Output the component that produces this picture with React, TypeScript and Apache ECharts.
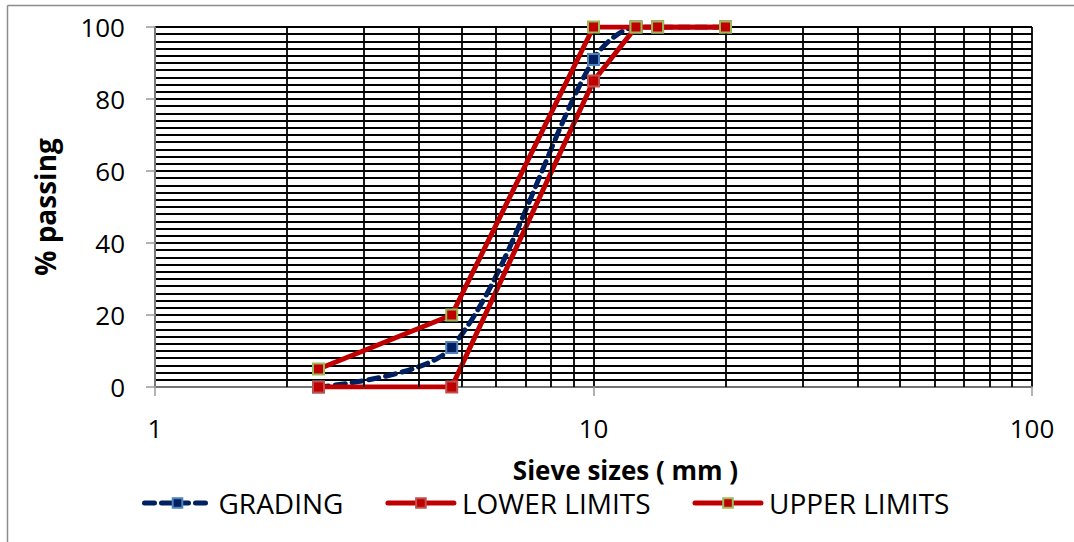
import React, { useEffect, useRef } from "react";
import * as echarts from "echarts";

const sieveSizes = [2.36, 4.75, 10, 12.5, 14, 20];
const grading = [0, 11, 91, 100, 100, 100];
const lowerLimits = [0, 0, 85, 100, 100, 100];
const upperLimits = [5, 20, 100, 100, 100, 100];
const minorGridX = [2, 3, 4, 5, 6, 7, 8, 9, 20, 30, 40, 50, 60, 70, 80, 90];

const FONT = "Open Sans";

export default function App() {
  const ref = useRef<HTMLDivElement>(null);
  useEffect(() => {
    const chart = echarts.init(ref.current!, null, { renderer: "svg" });
    const pair = (ys: number[]) => sieveSizes.map((x, i) => [x, ys[i]]);
    chart.setOption({
      animation: false,
      backgroundColor: "#fff",
      textStyle: { fontFamily: FONT },
      grid: { left: 155, right: 42, top: 27, bottom: 155 },
      xAxis: {
        type: "log",
        logBase: 10,
        min: 1,
        max: 100,
        name: "Sieve sizes ( mm )",
        nameLocation: "middle",
        nameGap: 70,
        nameTextStyle: { fontFamily: FONT, fontWeight: "bold", fontSize: 26, color: "#000", padding: [0, 0, 0, 64] },
        axisLine: { show: true, lineStyle: { color: "#9a9a9a", width: 1.5 } },
        axisTick: { show: true, length: 9, lineStyle: { color: "#9a9a9a", width: 1.5 } },
        axisLabel: { fontFamily: FONT, fontSize: 26, color: "#000", margin: 28 },
        splitLine: { show: true, lineStyle: { color: "#000", width: 1.8 } },
        minorTick: { show: false },
        minorSplitLine: { show: false },
      },
      yAxis: {
        type: "value",
        min: 0,
        max: 100,
        interval: 20,
        name: "% passing",
        nameLocation: "middle",
        nameGap: 96,
        nameTextStyle: { fontFamily: FONT, fontWeight: "bold", fontSize: 28, color: "#000" },
        axisLine: { show: true, lineStyle: { color: "#9a9a9a", width: 1.5 } },
        axisTick: { show: true, length: 9, lineStyle: { color: "#9a9a9a", width: 1.5 } },
        axisLabel: { fontFamily: FONT, fontSize: 26, color: "#000", margin: 30 },
        splitLine: { show: true, lineStyle: { color: "#000", width: 1.8 } },
        minorTick: { show: false, splitNumber: 10 },
        minorSplitLine: { show: true, lineStyle: { color: "#000", width: 1.8 } },
      },
      legend: {
        left: 137,
        top: 484,
        itemGap: 42,
        itemWidth: 66,
        itemHeight: 12,
        lineStyle: { width: 5, cap: "round" },
        textStyle: { fontFamily: FONT, fontSize: 28, color: "#000", padding: [0, 0, 0, 3] },
        data: ["GRADING", "LOWER LIMITS", "UPPER LIMITS"],
      },
      graphic: [
        { type: "line", shape: { x1: 7.5, y1: 5.5, x2: 1074, y2: 5.5 }, style: { stroke: "#8c8c8c", lineWidth: 1.5 } },
        { type: "line", shape: { x1: 7.5, y1: 5.5, x2: 7.5, y2: 542 }, style: { stroke: "#8c8c8c", lineWidth: 1.5 } },
      ],
      series: [
        {
          name: "grid",
          type: "line",
          data: [],
          z: 1,
          silent: true,
          markLine: {
            silent: true,
            symbol: ["none", "none"],
            label: { show: false },
            lineStyle: { color: "#000", width: 1.8, type: "solid" },
            data: minorGridX.map((v) => ({ xAxis: v })),
          },
        },
        {
          name: "GRADING",
          type: "line",
          data: pair(grading),
          smooth: 0.3,
          symbol: "rect",
          symbolSize: 11,
          lineStyle: { color: "#002060", width: 5, type: [10, 7], cap: "round" },
          itemStyle: { color: "#002060", borderColor: "#4F81BD", borderWidth: 2 },
          z: 3,
        },
        {
          name: "LOWER LIMITS",
          type: "line",
          data: pair(lowerLimits),
          symbol: "rect",
          symbolSize: 11,
          lineStyle: { color: "#C00000", width: 5 },
          itemStyle: { color: "#C00000", borderColor: "#C0504D", borderWidth: 2 },
          z: 4,
        },
        {
          name: "UPPER LIMITS",
          type: "line",
          data: pair(upperLimits),
          symbol: "rect",
          symbolSize: 11,
          lineStyle: { color: "#C00000", width: 5 },
          itemStyle: { color: "#C00000", borderColor: "#9BBB59", borderWidth: 2 },
          z: 5,
        },
      ],
    });
    return () => chart.dispose();
  }, []);
  return <div ref={ref} style={{ width: 1074, height: 542, position: "absolute", left: 0, top: 0 }} />;
}
